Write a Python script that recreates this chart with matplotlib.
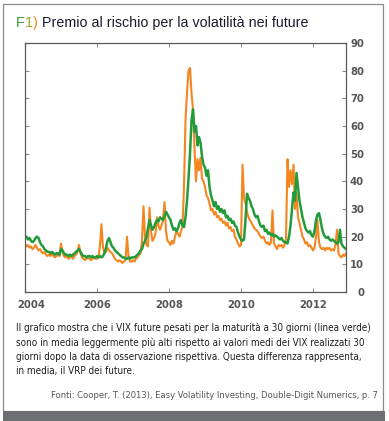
import numpy as np
import matplotlib
matplotlib.use("Agg")
import matplotlib.pyplot as plt
from matplotlib import font_manager

# ---------------- data (semi-monthly readings, 2004 .. end 2012) ----------------
start_year = 2004
steps_per_year = 24

green_2004 = [19.5, 20, 19, 19.5, 18.5, 18, 18.5, 19.5, 20, 19.5, 18, 17, 16.5, 15.5, 15, 14.5, 14.5, 14, 14.5, 14, 13.5, 14, 14, 13.5]
green_2005 = [15.5, 15, 14, 13.5, 13.5, 13, 13.5, 13, 13.5, 14, 14.5, 15, 15.5, 14.5, 13.5, 13, 13, 12.5, 13, 13, 12.5, 13, 12.5, 12.5]
green_2006 = [13, 12.5, 13, 12.5, 13, 14, 16, 18.5, 19.5, 18, 16.5, 16, 15, 14.5, 14, 13.5, 13, 12.5, 12.5, 12, 12, 12.5, 12, 12.5]
green_2007 = [12.5, 12.5, 13, 13.5, 14, 15, 15.5, 17.5, 18.5, 20, 23, 26, 24, 22.5, 23.5, 25, 26, 25.5, 27, 26.5, 26, 27.5, 29, 28]
green_2008 = [27, 26, 24, 22.5, 23, 22, 23, 25, 26, 24, 23.5, 27, 33, 41, 50, 62, 66, 58, 60, 53, 56, 54, 49, 46]
green_2009 = [45, 42, 44, 38, 35, 33, 31, 32.5, 30, 31, 29, 30, 28.5, 29.5, 27, 27.5, 26, 26.5, 25, 25.5, 24, 23.5, 21.5, 20]
green_2010 = [19, 18.5, 19, 26, 35.5, 34, 33, 31, 30, 28, 27, 27.5, 25.5, 24, 23.5, 24, 22, 22.5, 21, 21.5, 20.5, 21, 20, 20.5]
green_2011 = [20, 19.5, 19, 19.5, 18.5, 18, 18, 17.5, 20, 24, 30, 36, 33, 43, 38, 33, 30, 27, 25, 23, 22, 21.5, 22, 20.5]
green_2012 = [20, 22, 26, 28, 28.5, 26, 23, 21, 20, 19.5, 20, 19, 18.5, 19, 18.5, 18, 17.5, 18, 22.5, 17.5, 16.5, 16, 15.5]

orange_2004 = [17.5, 16.5, 17, 16, 16.5, 15.5, 16, 17, 16, 15, 15.5, 14.5, 14, 14.5, 13.5, 13, 13.5, 13, 14, 13, 12.5, 13, 13.5, 13]
orange_2005 = [17.5, 14.5, 13, 12.5, 13, 12, 12.5, 13, 12, 13, 13.5, 14.5, 17, 14, 12.5, 12, 11.5, 12, 12.5, 12, 11.5, 12, 12.5, 12]
orange_2006 = [12, 12.5, 17, 24.5, 16, 14, 14.5, 16, 15, 14.5, 14, 13, 12, 11.5, 11, 11.5, 11, 10.5, 11, 11.5, 20, 13, 11, 11]
orange_2007 = [11.5, 11, 12, 12.5, 13.5, 14, 18.5, 31, 20, 17, 16.5, 30.5, 22, 18.5, 19.5, 21, 27, 24, 22.5, 24, 26, 32.5, 22, 18.5]
orange_2008 = [18, 17, 18.5, 17.5, 20, 22, 21, 20, 22, 23.5, 38, 62, 72, 80, 81, 72, 66, 52, 40, 48, 44, 48.5, 41, 40]
orange_2009 = [38, 35, 34, 32, 29.5, 30, 28, 29, 27, 27.5, 26, 26.5, 25, 25.5, 24, 25, 23, 23.5, 22, 22.5, 20, 19, 17.5, 16.5]
orange_2010 = [17, 46, 34, 32, 29, 27, 26, 25, 24, 23, 22.5, 22, 21, 20, 19.5, 20, 18.5, 17.5, 18, 17, 18, 29.5, 17.5, 16.5]
orange_2011 = [15.5, 17, 16.5, 17, 16, 17, 19, 48, 38, 44, 39, 46, 30, 36, 27, 25, 22.5, 20, 19, 17.5, 18, 16.5, 17, 16]
orange_2012 = [15, 16, 20, 26, 18, 16, 15.5, 16, 15, 16, 15.5, 16, 15, 15.5, 15, 17, 22.5, 14, 13, 12.5, 13.5, 13, 14]

x_ticks = [2004, 2006, 2008, 2010, 2012]
x_tick_labels = ["2004", "2006", "2008", "2010", "2012"]
y_ticks = [0, 10, 20, 30, 40, 50, 60, 70, 80, 90]

title_prefix = ["F", "1", ")"]
title_text = " Premio al rischio per la volatilità nei future"
caption_lines = [
    "Il grafico mostra che i VIX future pesati per la maturità a 30 giorni (linea verde)",
    "sono in media leggermente più alti rispetto ai valori medi dei VIX realizzati 30",
    "giorni dopo la data di osservazione rispettiva. Questa differenza rappresenta,",
    "in media, il VRP dei future.",
]
source_text = "Fonti: Cooper, T. (2013), Easy Volatility Investing, Double-Digit Numerics, p. 7"

green = np.concatenate([green_2004, green_2005, green_2006, green_2007, green_2008,
                        green_2009, green_2010, green_2011, green_2012])
orange = np.concatenate([orange_2004, orange_2005, orange_2006, orange_2007, orange_2008,
                         orange_2009, orange_2010, orange_2011, orange_2012])
dates = start_year + np.arange(len(green)) / steps_per_year

# ---------------- fonts ----------------
available = {f.name for f in font_manager.fontManager.ttflist}
narrow = "Liberation Sans Narrow" if "Liberation Sans Narrow" in available else None
reg = "Liberation Sans" if "Liberation Sans" in available else "DejaVu Sans"

def narrow_kw():
    if narrow:
        return dict(family=narrow)
    return dict(family="DejaVu Sans", stretch="condensed")

W, H = 389, 421
fig = plt.figure(figsize=(W / 100, H / 100), dpi=100)
fig.patch.set_facecolor("white")

# outer frame
frame_col = "#8a8a8a"
fig.add_artist(plt.Rectangle((3 / W, 1 - 411 / H), (383 - 3) / W, (411 - 4) / H,
                             transform=fig.transFigure, fill=False, ec=frame_col, lw=0.9))
fig.add_artist(plt.Rectangle((3 / W, 0), (385 - 3) / W, (421 - 411) / H,
                             transform=fig.transFigure, fc="#6d6e71", ec="none"))

# axes
L, R, T, B = 25, 346, 43, 292
ax = fig.add_axes([L / W, 1 - B / H, (R - L) / W, (B - T) / H])
ax.plot(dates, orange, color="#f5861f", lw=1.5, solid_joinstyle="round")
ax.plot(dates, green, color="#239b3a", lw=1.8, solid_joinstyle="round")
ax.set_xlim(2004, 2004 + (R - L) / 36)
ax.set_ylim(0, 90)
ax.set_xticks(x_ticks)
ax.set_xticklabels(x_tick_labels)
ax.set_yticks(y_ticks)
for s in ax.spines.values():
    s.set_color("#5a5a5a")
    s.set_linewidth(0.9)
ax.tick_params(axis="both", direction="in", length=3, width=0.8, color="#888888",
               top=True, right=True, left=True, bottom=True,
               labelleft=False, labelright=True, labelcolor="#555555", labelsize=8)
ax.tick_params(axis="y", pad=13)
ax.tick_params(axis="x", pad=6)
for lab in ax.get_yticklabels():
    lab.set_horizontalalignment("right")
    lab.set_fontweight("bold")
    lab.set(**narrow_kw())
for lab in ax.get_xticklabels():
    lab.set_fontweight("bold")
    lab.set(**narrow_kw())
import matplotlib.transforms as mtrans
first = ax.get_xticklabels()[0]
first.set_transform(first.get_transform() + mtrans.ScaledTranslation(6 / 100, 0, fig.dpi_scale_trans))

# title
renderer = fig.canvas.get_renderer()
prefix_cols = ["#3f9a36", "#a0a81c", "#ee8a1c"]
t0 = fig.text(16 / W, 1 - 27 / H, title_prefix[0], color=prefix_cols[0], family=reg,
              fontsize=9.5, va="baseline", ha="left")
prev = t0
parts = [t0]
for ch, c in zip(title_prefix[1:], prefix_cols[1:]):
    t = fig.text(0, 0, ch, color=c, family=reg, fontsize=9.5, va="baseline", ha="left")
    parts.append(t)
tmain = fig.text(0, 0, title_text, color="#1b1b2f", family=reg, fontsize=9.5, va="baseline", ha="left")
parts.append(tmain)

def layout_title(size):
    x = 16
    for p in parts:
        p.set_fontsize(size)
        p.set_position((x / W, 1 - 27 / H))
        bb = p.get_window_extent(renderer)
        x += bb.width
    return x - 16

w = layout_title(9.5)
layout_title(9.5 * 291 / w)

# caption
cap_y = [328, 343, 357, 371]
cap_texts = []
for yy, line in zip(cap_y, caption_lines):
    cap_texts.append(fig.text(16 / W, 1 - yy / H, line, color="#1e1e1e", fontsize=9,
                              va="center", ha="left", **narrow_kw()))
w1 = cap_texts[0].get_window_extent(renderer).width
for t in cap_texts:
    t.set_fontsize(9 * 356 / w1)

src = fig.text(378 / W, 1 - 396 / H, source_text, color="#555555", fontsize=8.5,
               va="center", ha="right", **narrow_kw())
ws = src.get_window_extent(renderer).width
src.set_fontsize(8.5 * 328 / ws)

fig.savefig("out.png", dpi=100)
